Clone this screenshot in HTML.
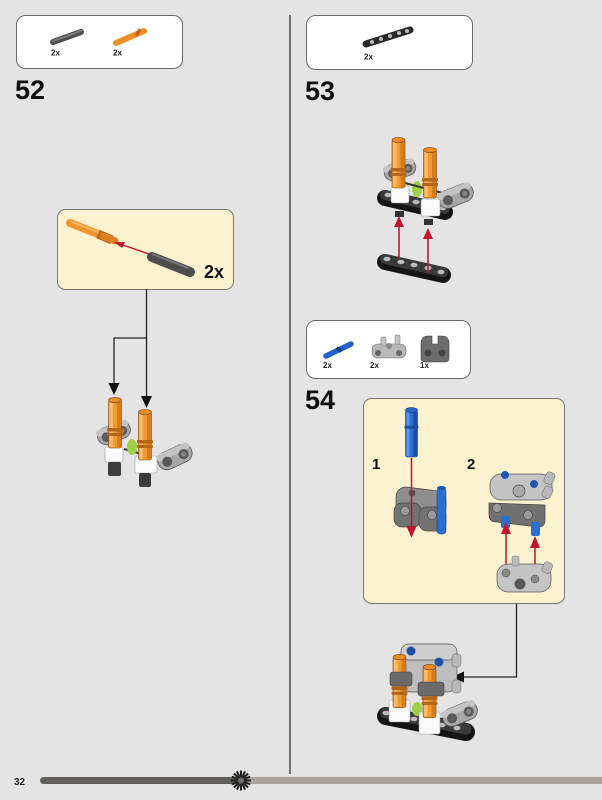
<!DOCTYPE html>
<html><head><meta charset="utf-8">
<style>
html,body{margin:0;padding:0;}
body{width:602px;height:800px;background:#e4e4e4;position:relative;overflow:hidden;font-family:"Liberation Sans",sans-serif;}
svg{position:absolute;left:0;top:0;}
</style></head><body>
<svg width="602" height="800" viewBox="0 0 602 800" xmlns="http://www.w3.org/2000/svg">
<defs>
  <g id="opin">
    <rect x="-6.5" y="2" width="13" height="48" rx="2" fill="#f39a2f" stroke="#7a4612" stroke-width="0.6"/>
    <rect x="-5.5" y="3" width="3.5" height="46" fill="#f8bb6c"/>
    <rect x="2" y="3" width="4" height="46" fill="#d77b1d"/>
    <rect x="-8" y="30" width="16" height="3.5" rx="1" fill="#b5651a"/>
    <rect x="-8" y="35" width="16" height="3" rx="1" fill="#b5651a"/>
    <ellipse cx="0" cy="2" rx="6.5" ry="2.6" fill="#e88d28" stroke="#7a4612" stroke-width="0.6"/>
  </g>
  <g id="bpin">
    <rect x="-6" y="2" width="12" height="48" rx="2" fill="#2b6fd2" stroke="#143e80" stroke-width="0.6"/>
    <rect x="-5" y="3" width="3" height="46" fill="#5b95e6"/>
    <rect x="2" y="3" width="3.5" height="46" fill="#1b4f9e"/>
    <rect x="-7" y="18" width="14" height="3" rx="1" fill="#1b4f9e"/>
    <ellipse cx="0" cy="2" rx="6" ry="2.5" fill="#2a66c4" stroke="#143e80" stroke-width="0.6"/>
  </g>
  <g id="gbeam">
    <rect x="-18" y="-9" width="36" height="18" rx="9" fill="#a7a7a7" stroke="#555" stroke-width="0.8"/>
    <rect x="-18" y="-9" width="36" height="7" rx="3.5" fill="#c4c4c4"/>
    <circle cx="-9" cy="1" r="5" fill="#5a5a5a"/>
    <circle cx="9" cy="1" r="5" fill="#5a5a5a"/>
    <circle cx="9" cy="1" r="2.5" fill="#888"/>
  </g>
</defs>

<!-- divider -->
<rect x="289" y="15" width="2" height="759" fill="#707070"/>

<!-- Step 52 parts box -->
<rect x="16.5" y="15.5" width="166" height="53" rx="9" fill="#fff" stroke="#6a6a6a" stroke-width="1"/>
<line x1="53" y1="42" x2="81" y2="32" stroke="#4e4e4e" stroke-width="6" stroke-linecap="round"/>
<line x1="53" y1="41" x2="81" y2="31" stroke="#7a7a7a" stroke-width="2" stroke-linecap="round"/>
<line x1="116" y1="43" x2="144" y2="31" stroke="#ef8e25" stroke-width="6" stroke-linecap="round"/>
<line x1="136" y1="36" x2="140" y2="29" stroke="#b8651a" stroke-width="3"/>
<text x="51" y="55.5" font-size="8" font-weight="bold" fill="#222">2x</text>
<text x="113" y="55.5" font-size="8" font-weight="bold" fill="#222">2x</text>
<text x="15" y="99" font-size="27" font-weight="bold" fill="#111">52</text>

<!-- Step 53 parts box -->
<rect x="306.5" y="15.5" width="166" height="54" rx="9" fill="#fff" stroke="#6a6a6a" stroke-width="1"/>
<line x1="366" y1="44" x2="410" y2="30" stroke="#2a2a2a" stroke-width="7" stroke-linecap="round"/>
<circle cx="372" cy="42" r="2" fill="#bbb"/><circle cx="381" cy="39" r="2" fill="#bbb"/><circle cx="390" cy="36" r="2" fill="#bbb"/><circle cx="399" cy="33" r="2" fill="#bbb"/><circle cx="407" cy="31" r="2" fill="#bbb"/>
<text x="364" y="59.5" font-size="8" font-weight="bold" fill="#222">2x</text>
<text x="305" y="100" font-size="27" font-weight="bold" fill="#111">53</text>

<!-- Step 52 callout -->
<rect x="57.5" y="209.5" width="176" height="80" rx="8" fill="#fcf2d0" stroke="#777" stroke-width="1"/>
<line x1="70" y1="223" x2="108" y2="238" stroke="#f2952c" stroke-width="8" stroke-linecap="round"/>
<line x1="70" y1="221" x2="105" y2="235" stroke="#f8b96a" stroke-width="2"/>
<line x1="98" y1="234" x2="112" y2="240" stroke="#b5651a" stroke-width="9"/>
<line x1="103" y1="236" x2="115" y2="241" stroke="#e2801f" stroke-width="7" stroke-linecap="round"/>
<line x1="152" y1="255" x2="123" y2="245" stroke="#c4122f" stroke-width="1.4"/>
<polygon points="114,242 125,242 122,248" fill="#c4122f"/>
<line x1="152" y1="257" x2="190" y2="272" stroke="#4d4d4d" stroke-width="10" stroke-linecap="round"/>
<line x1="152" y1="254" x2="188" y2="268" stroke="#7a7a7a" stroke-width="2"/>
<text x="204" y="278" font-size="18" font-weight="bold" fill="#111">2x</text>

<!-- Step 52 connectors -->
<g stroke="#222" stroke-width="1.3" fill="none">
  <line x1="146.5" y1="289" x2="146.5" y2="397"/>
  <polyline points="146.5,338 114,338 114,384"/>
</g>
<polygon points="108.5,383 119.5,383 114,395" fill="#111"/>
<polygon points="141,396 152,396 146.5,408" fill="#111"/>

<!-- Step 52 assembly -->
<use href="#gbeam" transform="translate(114,433) rotate(-22) scale(0.95)"/>
<rect x="105" y="447" width="18" height="15" rx="2" fill="#fafafa" stroke="#999" stroke-width="0.6"/>
<rect x="108" y="462" width="13" height="14" rx="2" fill="#3c3c3c"/>
<line x1="124" y1="449" x2="166" y2="461" stroke="#333" stroke-width="2"/>
<ellipse cx="132" cy="447" rx="5" ry="8" fill="#9fd046"/>
<use href="#opin" transform="translate(115,398)"/>
<use href="#gbeam" transform="translate(175,457) rotate(-25)"/>
<rect x="135" y="456" width="22" height="17" rx="2" fill="#fafafa" stroke="#999" stroke-width="0.6"/>
<rect x="139" y="473" width="12" height="14" rx="2" fill="#3c3c3c"/>
<use href="#opin" transform="translate(145,410)"/>

<!-- Step 53 assembly -->
<use href="#gbeam" transform="translate(400,170) rotate(-18) scale(0.9)"/>
<g>
  <line x1="385" y1="198" x2="445" y2="212" stroke="#151515" stroke-width="16" stroke-linecap="round"/>
  <line x1="385" y1="195" x2="445" y2="209" stroke="#3a3a3a" stroke-width="10" stroke-linecap="round"/>
  <ellipse cx="388" cy="195" rx="3.5" ry="2.3" fill="#bbb"/><ellipse cx="402" cy="198" rx="3.5" ry="2.3" fill="#bbb"/><ellipse cx="416" cy="202" rx="3.5" ry="2.3" fill="#bbb"/><ellipse cx="430" cy="205" rx="3.5" ry="2.3" fill="#bbb"/><ellipse cx="443" cy="208" rx="3.5" ry="2.3" fill="#bbb"/>
</g>
<rect x="395" y="211" width="9" height="6" fill="#333"/>
<rect x="424" y="219" width="9" height="6" fill="#333"/>
<rect x="391" y="186" width="18" height="17" rx="2" fill="#fafafa" stroke="#999" stroke-width="0.6"/>
<ellipse cx="417" cy="189" rx="5" ry="8" fill="#9fd046"/>
<line x1="405" y1="183" x2="450" y2="195" stroke="#333" stroke-width="2"/>
<use href="#opin" transform="translate(398.5,138)"/>
<use href="#gbeam" transform="translate(456,196) rotate(-22)"/>
<rect x="421" y="199" width="19" height="17" rx="2" fill="#fafafa" stroke="#999" stroke-width="0.6"/>
<use href="#opin" transform="translate(430,148)"/>
<g>
  <line x1="385" y1="262" x2="443" y2="275" stroke="#151515" stroke-width="16" stroke-linecap="round"/>
  <line x1="385" y1="259" x2="443" y2="272" stroke="#3a3a3a" stroke-width="10" stroke-linecap="round"/>
  <ellipse cx="387" cy="259" rx="3.5" ry="2.3" fill="#bbb"/><ellipse cx="401" cy="262" rx="3.5" ry="2.3" fill="#bbb"/><ellipse cx="414" cy="265" rx="3.5" ry="2.3" fill="#bbb"/><ellipse cx="428" cy="268" rx="3.5" ry="2.3" fill="#bbb"/><ellipse cx="441" cy="272" rx="3.5" ry="2.3" fill="#bbb"/>
</g>
<line x1="399" y1="226" x2="399" y2="259" stroke="#c4122f" stroke-width="1.6"/>
<polygon points="394,227 404,227 399,216" fill="#c4122f"/>
<line x1="428" y1="238" x2="428" y2="273" stroke="#c4122f" stroke-width="1.6"/>
<polygon points="423,239 433,239 428,228" fill="#c4122f"/>

<!-- Step 54 parts box -->
<rect x="306.5" y="320.5" width="164" height="58" rx="9" fill="#fff" stroke="#6a6a6a" stroke-width="1"/>
<line x1="326" y1="356" x2="351" y2="344" stroke="#2262c8" stroke-width="5.5" stroke-linecap="round"/>
<line x1="338" y1="351" x2="340" y2="348" stroke="#143e80" stroke-width="6"/>
<rect x="372" y="344" width="34" height="14" rx="6" fill="#b9b9b9" stroke="#666" stroke-width="0.6"/>
<rect x="381" y="337" width="5" height="9" rx="1" fill="#c4c4c4" stroke="#777" stroke-width="0.5"/>
<rect x="395" y="335" width="5" height="9" rx="1" fill="#c4c4c4" stroke="#777" stroke-width="0.5"/>
<circle cx="378" cy="353" r="3" fill="#666"/><circle cx="399" cy="353" r="3" fill="#666"/><circle cx="389" cy="346" r="3" fill="#888"/>
<path d="M421,344 Q421,336 428,336 L432,336 L432,344 L438,344 L438,336 L442,336 Q449,336 449,344 L449,358 Q449,362 445,362 L425,362 Q421,362 421,358 Z" fill="#6d6d6d" stroke="#444" stroke-width="0.6"/>
<circle cx="428" cy="353" r="3.5" fill="#444"/><circle cx="442" cy="353" r="3.5" fill="#444"/>
<text x="323" y="368" font-size="8" font-weight="bold" fill="#222">2x</text>
<text x="370" y="368" font-size="8" font-weight="bold" fill="#222">2x</text>
<text x="420" y="368" font-size="8" font-weight="bold" fill="#222">1x</text>
<text x="305" y="409" font-size="27" font-weight="bold" fill="#111">54</text>

<!-- Step 54 callout -->
<rect x="363.5" y="398.5" width="201" height="205" rx="8" fill="#fcf2d0" stroke="#777" stroke-width="1"/>
<text x="372" y="469" font-size="15" font-weight="bold" fill="#111">1</text>
<text x="467" y="469" font-size="15" font-weight="bold" fill="#111">2</text>
<use href="#bpin" transform="translate(411.5,408) scale(1,0.98)"/>
<!-- part 1 -->
<path d="M396,498 Q396,488 406,487 L438,491 Q446,493 446,501 L446,508 L396,508 Z" fill="#8e8e8e" stroke="#444" stroke-width="0.7"/>
<rect x="394" y="503" width="27" height="24" rx="8" fill="#727272" stroke="#444" stroke-width="0.7"/>
<rect x="419" y="507" width="27" height="24" rx="8" fill="#727272" stroke="#444" stroke-width="0.7"/>
<circle cx="405" cy="511" r="4.5" fill="#9a9a9a" stroke="#444" stroke-width="0.6"/>
<circle cx="432" cy="515" r="4.5" fill="#9a9a9a" stroke="#444" stroke-width="0.6"/>
<circle cx="412" cy="493" r="3.5" fill="#555"/>
<rect x="437" y="488" width="9" height="46" rx="3" fill="#2b6fd2" stroke="#143e80" stroke-width="0.5"/>
<ellipse cx="441.5" cy="488" rx="4.5" ry="2" fill="#1f56ac"/>
<line x1="411.5" y1="458" x2="411.5" y2="528" stroke="#c4122f" stroke-width="1.5"/>
<polygon points="406.5,526 416.5,526 411.5,538" fill="#c4122f"/>
<!-- part 2 -->
<path d="M489,503 L489,515 Q489,522 497,522 L538,527 Q545,527 545,520 L545,505 Z" fill="#707070" stroke="#444" stroke-width="0.7"/>
<circle cx="497" cy="508" r="4.5" fill="#9a9a9a" stroke="#444" stroke-width="0.6"/>
<circle cx="528" cy="515" r="4.5" fill="#9a9a9a" stroke="#444" stroke-width="0.6"/>
<rect x="501" y="516" width="9" height="12" rx="2" fill="#2b6fd2"/>
<rect x="531" y="522" width="9" height="14" rx="2" fill="#2b6fd2"/>
<rect x="490" y="474" width="62" height="26" rx="11" fill="#c4c4c4" stroke="#555" stroke-width="0.7"/>
<rect x="545" y="472" width="9" height="12" rx="3" fill="#b8b8b8" stroke="#666" stroke-width="0.5" transform="rotate(25 549 478)"/>
<rect x="543" y="486" width="9" height="12" rx="3" fill="#b8b8b8" stroke="#666" stroke-width="0.5" transform="rotate(25 547 492)"/>
<circle cx="505" cy="475" r="4" fill="#1f56ac"/>
<circle cx="534" cy="484" r="4" fill="#1f56ac"/>
<circle cx="519" cy="491" r="6" fill="#aaa" stroke="#444" stroke-width="0.7"/>
<line x1="506" y1="533" x2="506" y2="568" stroke="#c4122f" stroke-width="1.5"/>
<polygon points="501,534 511,534 506,522" fill="#c4122f"/>
<line x1="535" y1="547" x2="535" y2="577" stroke="#c4122f" stroke-width="1.5"/>
<polygon points="530,548 540,548 535,536" fill="#c4122f"/>
<!-- bottom part of 2 -->
<rect x="497" y="564" width="54" height="28" rx="11" fill="#c4c4c4" stroke="#555" stroke-width="0.7"/>
<rect x="512" y="556" width="7" height="10" rx="2" fill="#bbb" stroke="#777" stroke-width="0.5"/>
<rect x="543" y="562" width="9" height="11" rx="3" fill="#b8b8b8" stroke="#666" stroke-width="0.5" transform="rotate(25 547 567)"/>
<circle cx="506" cy="573" r="4" fill="#8a8a8a" stroke="#444" stroke-width="0.5"/>
<circle cx="535" cy="579" r="4" fill="#8a8a8a" stroke="#444" stroke-width="0.5"/>
<circle cx="520" cy="584" r="5.5" fill="#555"/>

<!-- connector from step 54 callout -->
<polyline points="516.5,604 516.5,677 462,677" fill="none" stroke="#222" stroke-width="1.3"/>
<polygon points="452,677 464,671.5 464,682.5" fill="#111"/>

<!-- bottom assembly -->
<g>
  <line x1="386" y1="716" x2="466" y2="732" stroke="#151515" stroke-width="18" stroke-linecap="round"/>
  <line x1="386" y1="713" x2="466" y2="729" stroke="#3a3a3a" stroke-width="11" stroke-linecap="round"/>
  <ellipse cx="386" cy="713" rx="3.5" ry="2.3" fill="#bbb"/><ellipse cx="400" cy="716" rx="3.5" ry="2.3" fill="#bbb"/><ellipse cx="414" cy="719" rx="3.5" ry="2.3" fill="#bbb"/><ellipse cx="428" cy="722" rx="3.5" ry="2.3" fill="#bbb"/><ellipse cx="442" cy="725" rx="3.5" ry="2.3" fill="#bbb"/><ellipse cx="457" cy="728" rx="3.5" ry="2.3" fill="#bbb"/>
</g>
<rect x="401" y="644" width="56" height="48" rx="10" fill="#bdbdbd" stroke="#555" stroke-width="0.7"/>
<rect x="401" y="644" width="56" height="16" rx="8" fill="#cfcfcf" stroke="#555" stroke-width="0.7"/>
<rect x="452" y="654" width="9" height="13" rx="3" fill="#b8b8b8" stroke="#666" stroke-width="0.5"/>
<rect x="452" y="680" width="9" height="13" rx="3" fill="#b8b8b8" stroke="#666" stroke-width="0.5"/>
<circle cx="411" cy="651" r="4.5" fill="#1f4fa8"/>
<circle cx="439" cy="662" r="4.5" fill="#1f4fa8"/>
<rect x="389" y="700" width="21" height="22" rx="2" fill="#fafafa" stroke="#999" stroke-width="0.6"/>
<ellipse cx="417" cy="709" rx="5" ry="7" fill="#9fd046"/>
<use href="#opin" transform="translate(399.5,655) scale(1,1.05)"/>
<rect x="390" y="672" width="22" height="14" rx="3" fill="#6a6a6a" stroke="#444" stroke-width="0.6"/>
<use href="#gbeam" transform="translate(460,714) rotate(-22)"/>
<rect x="419" y="712" width="21" height="22" rx="2" fill="#fafafa" stroke="#999" stroke-width="0.6"/>
<use href="#opin" transform="translate(429.5,665) scale(1,1.05)"/>
<rect x="418" y="682" width="26" height="14" rx="3" fill="#6a6a6a" stroke="#444" stroke-width="0.6"/>

<!-- footer -->
<text x="14" y="785" font-size="10" font-weight="bold" fill="#222">32</text>
<rect x="240" y="777" width="362" height="7" fill="#a8a39e"/>
<rect x="40" y="777" width="205" height="7" rx="3.5" fill="#5f5e5a"/>
<g transform="translate(241,780.5)" stroke="#1e1e1e" stroke-width="2">
  <line x1="0" y1="-10" x2="0" y2="10"/>
  <line x1="-10" y1="0" x2="10" y2="0"/>
  <line x1="-7" y1="-7" x2="7" y2="7"/>
  <line x1="-7" y1="7" x2="7" y2="-7"/>
  <line x1="-4" y1="-9.2" x2="4" y2="9.2"/>
  <line x1="4" y1="-9.2" x2="-4" y2="9.2"/>
  <line x1="-9.2" y1="-4" x2="9.2" y2="4"/>
  <line x1="-9.2" y1="4" x2="9.2" y2="-4"/>
</g>
<circle cx="241" cy="780.5" r="6" fill="#2a2a2a"/>
<circle cx="241" cy="780.5" r="3" fill="#6f6f6f"/>
</svg>
</body></html>
